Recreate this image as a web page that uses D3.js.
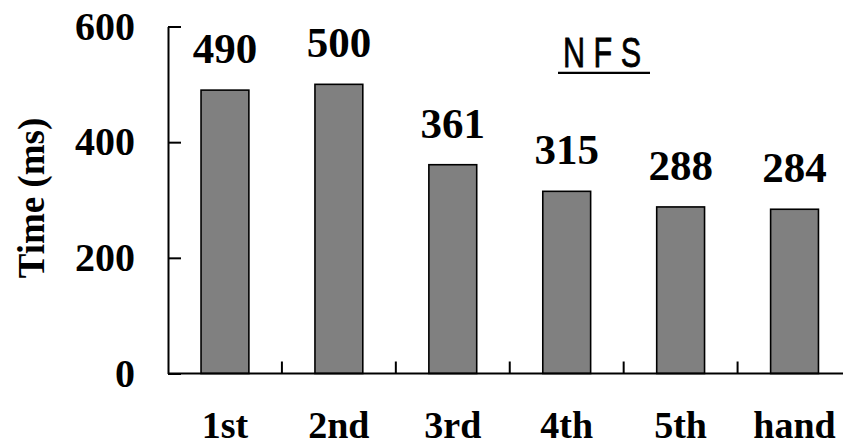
<!DOCTYPE html>
<html>
<head>
<meta charset="utf-8">
<script src="https://cdn.jsdelivr.net/npm/d3@7/dist/d3.min.js"></script>
<style>
  html, body { margin: 0; padding: 0; background: #fff; }
  svg { display: block; }
</style>
</head>
<body>
<svg id="chart" width="843" height="446"></svg>
<script>
// Data
const categories = ["1st", "2nd", "3rd", "4th", "5th", "hand"];
const times = [490, 500, 361, 315, 288, 284];
const yTicks = [0, 200, 400, 600];
const chartTitle = "N F S";
const yTitle = "Time (ms)";

const svg = d3.select("#chart");
const serif = "'Liberation Serif', 'Times New Roman', Times, serif";

const plotLeft = 168, plotRight = 851.5, plotTop = 26.5, plotBottom = 373.5;

const x = d3.scaleBand()
  .domain(categories)
  .range([plotLeft, plotRight])
  .paddingInner(0.58)
  .paddingOuter(0.29);

const y = d3.scaleLinear().domain([0, 600]).range([plotBottom, plotTop]);

// Bars
svg.append("g").selectAll("rect")
  .data(categories)
  .join("rect")
  .attr("x", d => x(d))
  .attr("y", (d, i) => y(times[i]))
  .attr("width", x.bandwidth())
  .attr("height", (d, i) => y(0) - y(times[i]))
  .attr("fill", "#808080")
  .attr("stroke", "#000")
  .attr("stroke-width", 1.6);

// Value labels above bars
svg.append("g").selectAll("text")
  .data(categories)
  .join("text")
  .attr("x", d => x(d) + x.bandwidth() / 2)
  .attr("y", (d, i) => y(times[i]) - 27)
  .attr("text-anchor", "middle")
  .attr("font-family", serif)
  .attr("font-weight", "bold")
  .attr("font-size", 43)
  .text((d, i) => times[i]);

// Y axis, ticks pointing inward
const yAxis = svg.append("g")
  .attr("transform", `translate(${plotLeft},0)`)
  .call(d3.axisLeft(y).tickValues(yTicks).tickSizeInner(-13).tickSizeOuter(0).tickPadding(33));
yAxis.select(".domain").attr("stroke", "#000").attr("stroke-width", 2);
yAxis.selectAll(".tick line").attr("stroke", "#000").attr("stroke-width", 2);
yAxis.selectAll(".tick text")
  .attr("font-family", serif)
  .attr("font-weight", "bold")
  .attr("font-size", 40)
  .attr("fill", "#000");

// X axis line with ticks at category boundaries
const step = x.step();
const boundaries = d3.range(1, categories.length + 1).map(i => plotLeft + i * step);
const xAxis = svg.append("g");
xAxis.append("line")
  .attr("x1", plotLeft).attr("x2", plotRight)
  .attr("y1", plotBottom).attr("y2", plotBottom)
  .attr("stroke", "#000").attr("stroke-width", 2);
xAxis.selectAll("line.tick")
  .data(boundaries)
  .join("line")
  .attr("class", "tick")
  .attr("x1", d => d).attr("x2", d => d)
  .attr("y1", plotBottom).attr("y2", plotBottom - 12)
  .attr("stroke", "#000").attr("stroke-width", 2);
xAxis.selectAll("text")
  .data(categories)
  .join("text")
  .attr("x", d => x(d) + x.bandwidth() / 2)
  .attr("y", 438)
  .attr("text-anchor", "middle")
  .attr("font-family", serif)
  .attr("font-weight", "bold")
  .attr("font-size", 38)
  .text(d => d);

// Y axis title
svg.append("text")
  .attr("transform", `translate(44,${(plotTop + plotBottom) / 2 - 2}) rotate(-90)`)
  .attr("text-anchor", "middle")
  .attr("font-family", serif)
  .attr("font-weight", "bold")
  .attr("font-size", 37)
  .text(yTitle);

// Underlined chart title
svg.append("text")
  .attr("x", 563)
  .attr("y", 67)
  .attr("font-family", "'Liberation Sans', Arial, sans-serif")
  .attr("font-size", 42)
  .attr("textLength", 78)
  .attr("lengthAdjust", "spacingAndGlyphs")
  .attr("stroke", "#000")
  .attr("stroke-width", 0.8)
  .text(chartTitle);
svg.append("line")
  .attr("x1", 558).attr("x2", 650)
  .attr("y1", 72.8).attr("y2", 72.8)
  .attr("stroke", "#000").attr("stroke-width", 2.2);
</script>
</body>
</html>
